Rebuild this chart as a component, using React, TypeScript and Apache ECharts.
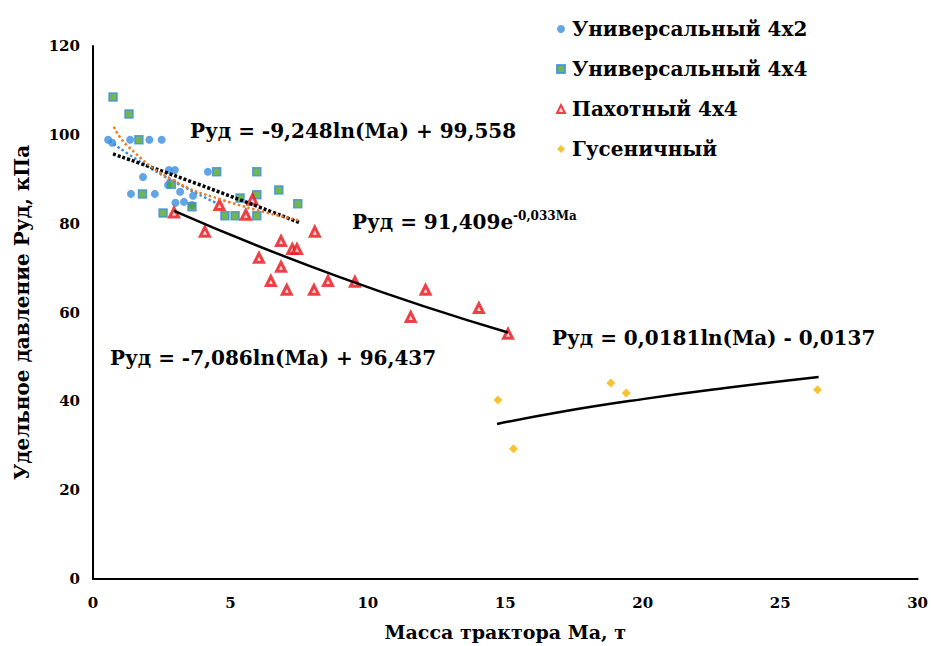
import React, { useEffect, useRef } from "react";
import * as echarts from "echarts";

const xTicks = [0, 5, 10, 15, 20, 25, 30];
const yTicks = [0, 20, 40, 60, 80, 100, 120];

const seriesNames = ["Универсальный 4x2", "Универсальный 4x4", "Пахотный 4x4", "Гусеничный"];

const univ4x2: number[][] = [
  [0.55, 98.9], [0.7, 98.2], [1.35, 98.9], [2.05, 98.9], [2.5, 98.9],
  [1.38, 86.7], [2.25, 86.7], [1.82, 90.5], [2.76, 92.1], [2.98, 92.1],
  [2.73, 88.7], [3.17, 87.2], [3.64, 86.3], [3.0, 84.7], [3.31, 84.9],
  [3.6, 84.2], [4.18, 91.7],
];

const univ4x4: number[][] = [
  [0.73, 108.5], [1.31, 104.7], [1.67, 98.9], [1.8, 86.7], [2.85, 88.9],
  [2.55, 82.4], [3.6, 83.8], [4.5, 91.7], [4.8, 81.8], [5.17, 81.8],
  [5.35, 85.8], [5.96, 91.7], [5.96, 86.5], [5.96, 81.8], [6.76, 87.6],
  [7.45, 84.5],
];

const plough4x4: number[][] = [
  [2.95, 82.5], [4.07, 78.2], [4.6, 84.2], [5.56, 82.0], [5.8, 85.4],
  [6.04, 72.3], [6.47, 67.1], [6.84, 76.1], [6.84, 70.3], [7.05, 65.1],
  [7.25, 74.3], [7.42, 74.3], [8.04, 65.1], [8.07, 78.2], [8.55, 67.1],
  [9.53, 66.9], [11.56, 59.0], [12.1, 65.1], [14.04, 61.0], [15.1, 55.2],
];

const crawler: number[][] = [
  [14.73, 40.3], [15.3, 29.3], [18.84, 44.1], [19.4, 41.9], [26.36, 42.6],
];

// trend lines
const trendCrawler: number[][] = [[14.7, 34.9], [17, 37.6], [20, 40.5], [23, 43.0], [26.4, 45.5]];
const trendPlough: number[][] = [[2.95, 82.9], [9, 67.9], [15.1, 55.5]];
const trendOrange: number[][] = [[0.76, 101.8], [1.24, 97.6], [2.8, 90.2], [4.73, 85.3], [7.53, 80.7]];
const trendBlackDot: number[][] = [[0.73, 95.7], [4, 88.5], [7.53, 80.2]];
const trendBlueDot: number[][] = [[0.6, 98.6], [1.78, 93.7], [3, 89.3], [4.5, 84.6]];

const eq1 = "Руд = -9,248ln(Ma) + 99,558";
const eq2Main = "Руд = 91,409e";
const eq2Sup = "-0,033Ma";
const eq3 = "Руд = -7,086ln(Ma) + 96,437";
const eq4 = "Руд = 0,0181ln(Ma) - 0,0137";

const FONT = "DejaVu Serif";

export default function App() {
  const ref = useRef<HTMLDivElement>(null);
  useEffect(() => {
    document.body.style.margin = "0";
    const chart = echarts.init(ref.current!, null, { renderer: "svg" });
    const eqStyle = (text: string, x: number, y: number) => ({
      type: "text",
      x,
      y,
      style: {
        text,
        fontFamily: FONT,
        fontWeight: "bold",
        fontSize: 20,
        fill: "#000",
        verticalAlign: "middle",
      },
      z: 100,
    });
    chart.setOption({
      animation: false,
      backgroundColor: "#fff",
      textStyle: { fontFamily: FONT },
      grid: { left: 93, right: 13, top: 46, bottom: 67, containLabel: false },
      legend: {
        orient: "vertical",
        left: 551,
        top: 14,
        itemGap: 20,
        itemWidth: 8,
        itemHeight: 8,
        data: seriesNames,
        textStyle: { fontFamily: FONT, fontWeight: "bold", fontSize: 20, color: "#000", padding: [0, 0, 0, 2] },
      },
      xAxis: {
        type: "value",
        min: xTicks[0],
        max: xTicks[xTicks.length - 1],
        interval: 5,
        name: "Масса трактора Ма, т",
        nameLocation: "middle",
        nameGap: 43,
        nameTextStyle: { fontFamily: FONT, fontWeight: "bold", fontSize: 19, color: "#000" },
        axisLine: { show: true, lineStyle: { color: "#000", width: 2 } },
        axisTick: { show: false },
        splitLine: { show: false },
        axisLabel: { fontFamily: FONT, fontWeight: "bold", fontSize: 15, color: "#000", margin: 16 },
      },
      yAxis: {
        type: "value",
        min: yTicks[0],
        max: yTicks[yTicks.length - 1],
        interval: 20,
        name: "Удельное давление Руд, кПа",
        nameLocation: "middle",
        nameGap: 61,
        nameTextStyle: { fontFamily: FONT, fontWeight: "bold", fontSize: 20, color: "#000" },
        axisLine: { show: true, lineStyle: { color: "#000", width: 2 } },
        axisTick: { show: false },
        splitLine: { show: false },
        axisLabel: { fontFamily: FONT, fontWeight: "bold", fontSize: 15, color: "#000", margin: 13 },
      },
      series: [
        {
          name: seriesNames[0],
          type: "scatter",
          symbol: "circle",
          symbolSize: 8,
          itemStyle: { color: "#3A8EE0" },
          data: univ4x2,
        },
        {
          name: seriesNames[1],
          type: "scatter",
          symbol: "rect",
          symbolSize: 8,
          itemStyle: { color: "#4FA22A", borderColor: "#3A8EE0", borderWidth: 1.5 },
          data: univ4x4,
        },
        {
          name: seriesNames[2],
          type: "scatter",
          symbol: "triangle",
          symbolSize: 9,
          itemStyle: { color: "#FFD0D0", borderColor: "#E8141C", borderWidth: 3 },
          data: plough4x4,
        },
        {
          name: seriesNames[3],
          type: "scatter",
          symbol: "diamond",
          symbolSize: 9,
          itemStyle: { color: "#F5B400" },
          data: crawler,
        },
        {
          type: "line",
          data: trendBlueDot,
          smooth: true,
          showSymbol: false,
          lineStyle: { color: "#3A8EE0", width: 2.5, type: "dotted" },
          z: 5,
        },
        {
          type: "line",
          data: trendBlackDot,
          smooth: true,
          showSymbol: false,
          lineStyle: { color: "#000", width: 3.5, type: [3, 2] },
          z: 5,
        },
        {
          type: "line",
          data: trendOrange,
          smooth: true,
          showSymbol: false,
          lineStyle: { color: "#F07A22", width: 2.5, type: "dotted" },
          z: 6,
        },
        {
          type: "line",
          data: trendPlough,
          smooth: true,
          showSymbol: false,
          lineStyle: { color: "#000", width: 2.5 },
          z: 5,
        },
        {
          type: "line",
          data: trendCrawler,
          smooth: true,
          showSymbol: false,
          lineStyle: { color: "#000", width: 2.5 },
          z: 5,
        },
      ],
      graphic: [
        eqStyle(eq1, 190, 131),
        {
          type: "text",
          x: 352,
          y: 222,
          z: 100,
          style: {
            text: `{m|${eq2Main}}{s|${eq2Sup}}`,
            verticalAlign: "middle",
            fontFamily: FONT,
            rich: {
              m: { fontFamily: FONT, fontWeight: "bold", fontSize: 20, color: "#000" },
              s: { fontFamily: FONT, fontWeight: "bold", fontSize: 12, color: "#000", padding: [0, 0, 13, 0] },
            },
          },
        },
        eqStyle(eq3, 110, 358),
        eqStyle(eq4, 552, 338),
      ],
    });
    return () => chart.dispose();
  }, []);
  return <div ref={ref} style={{ width: 931, height: 646 }} />;
}
